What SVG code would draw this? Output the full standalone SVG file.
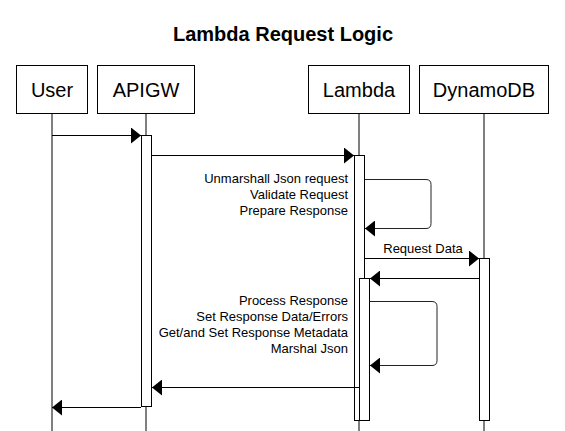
<svg xmlns="http://www.w3.org/2000/svg" width="565" height="431" viewBox="0 0 565 431">
  <style>
    .box { fill: #ffffff; stroke: #000000; stroke-width: 1; }
    .life { fill: none; stroke: #000000; stroke-width: 1; }
    .act { fill: #ffffff; stroke: #000000; stroke-width: 1; }
    .msg { fill: none; stroke: #000000; stroke-width: 1; marker-end: url(#block); }
    .loop { fill: none; stroke: #222222; stroke-width: 1; marker-end: url(#block); }
    .plabel { font-family: "Liberation Sans", Arial, sans-serif; font-size: 20px; fill: #000000; text-anchor: middle; }
    .title { font-family: "Liberation Sans", Arial, sans-serif; font-size: 20px; font-weight: bold; fill: #000000; text-anchor: middle; }
    .note { font-family: "Liberation Sans", Arial, sans-serif; font-size: 13px; fill: #000000; text-anchor: end; }
    .mlabel { font-family: "Liberation Sans", Arial, sans-serif; font-size: 13px; fill: #000000; text-anchor: middle; }
  </style>
  <defs>
    <marker id="block" markerUnits="userSpaceOnUse" viewBox="0 0 10 16" refX="10" refY="8" markerWidth="10" markerHeight="16" orient="auto">
      <path d="M0,0 L10,8 L0,16 Z" fill="#000000"/>
    </marker>
  </defs>
  <rect x="0" y="0" width="565" height="431" fill="#ffffff"/>

  <g id="title">
    <text class="title" x="283" y="41">Lambda Request Logic</text>
  </g>

  <g id="user">
    <line class="life" x1="52" y1="114" x2="52" y2="431"/>
    <rect class="box" x="16.5" y="65.5" width="71" height="48"/>
    <text class="plabel" x="52" y="97">User</text>
  </g>

  <g id="apigw">
    <line class="life" x1="146" y1="114" x2="146" y2="431"/>
    <rect class="box" x="97.5" y="65.5" width="97" height="48"/>
    <text class="plabel" x="146" y="97">APIGW</text>
    <rect class="act" x="141.5" y="135.5" width="10" height="271"/>
  </g>

  <g id="lambda">
    <line class="life" x1="359" y1="114" x2="359" y2="431"/>
    <rect class="box" x="308.5" y="65.5" width="101" height="48"/>
    <text class="plabel" x="359" y="97">Lambda</text>
    <rect class="act" x="354.5" y="155.5" width="10" height="265"/>
    <rect class="act" x="359.5" y="278.5" width="10" height="142"/>
  </g>

  <g id="dynamodb">
    <line class="life" x1="484" y1="114" x2="484" y2="431"/>
    <rect class="box" x="419.5" y="65.5" width="129" height="48"/>
    <text class="plabel" x="484" y="97">DynamoDB</text>
    <rect class="act" x="479.5" y="258.5" width="10" height="162"/>
  </g>

  <g id="connectors">
    <line class="msg" x1="52" y1="135.5" x2="141" y2="135.5"/>
    <line class="msg" x1="152" y1="155.5" x2="354" y2="155.5"/>
    <path class="loop" d="M365,179.5 H426 Q431,179.5 431,184.5 V223.5 Q431,228.5 426,228.5 H365"/>
    <line class="msg" x1="365" y1="258.5" x2="479" y2="258.5"/>
    <line class="msg" x1="479" y1="278.5" x2="370" y2="278.5"/>
    <path class="loop" d="M370,301.5 H432 Q437,301.5 437,306.5 V360.5 Q437,365.5 432,365.5 H370"/>
    <line class="msg" x1="359" y1="387.5" x2="152" y2="387.5"/>
    <line class="msg" x1="141" y1="407.5" x2="52" y2="407.5"/>
  </g>

  <g id="labels">
    <text class="note" x="348" y="183">Unmarshall Json request</text>
    <text class="note" x="348" y="199">Validate Request</text>
    <text class="note" x="348" y="215">Prepare Response</text>
    <text class="mlabel" x="423" y="253">Request Data</text>
    <text class="note" x="348" y="305">Process Response</text>
    <text class="note" x="348" y="321">Set Response Data/Errors</text>
    <text class="note" x="348" y="337">Get/and Set Response Metadata</text>
    <text class="note" x="348" y="353">Marshal Json</text>
  </g>
</svg>
